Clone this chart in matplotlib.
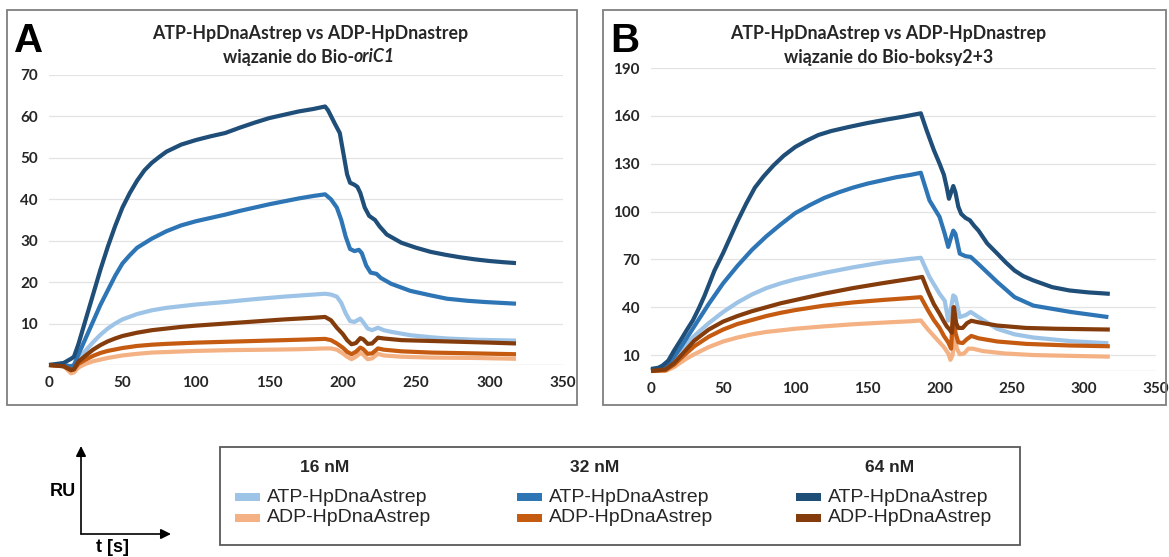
import numpy as np
import matplotlib
matplotlib.use("Agg")
import matplotlib.pyplot as plt
from matplotlib.patches import Rectangle, FancyArrowPatch

# ---- data: panel A (Bio-oriC1) ----
a_t_atp16 = [0, 10, 15, 17, 20, 25, 30, 35, 40, 45, 50, 60, 70, 80, 90, 100, 120, 140, 160, 180, 188,
             192, 196, 199, 202, 205, 208, 210, 212, 214, 217, 220, 224, 228, 233, 246, 260, 271, 290, 318]
a_y_atp16 = [0, -0.3, -1, -0.5, 1.5, 3.5, 5.5, 7.3, 8.8, 10, 11, 12.3, 13.2, 13.8, 14.2, 14.6, 15.2, 15.9, 16.5, 17, 17.2,
             17, 16.5, 15, 12.5, 10.6, 10.4, 10.8, 11.2, 10.3, 8.8, 8.4, 9, 8.4, 8, 7.2, 6.7, 6.4, 6.1, 5.9]
a_t_adp16 = [0, 10, 15, 17, 20, 25, 30, 40, 50, 60, 70, 85, 100, 125, 150, 170, 188,
             192, 196, 200, 203, 206, 209, 212, 214, 217, 220, 224, 228, 240, 260, 290, 318]
a_y_adp16 = [0, -0.3, -2, -1.8, -0.6, 0.3, 0.9, 1.7, 2.3, 2.7, 3, 3.2, 3.4, 3.6, 3.7, 3.8, 4,
             4, 3.7, 2.8, 2, 1.4, 2, 2.9, 2.5, 1.4, 1.6, 2.7, 2.3, 2, 1.8, 1.7, 1.5]
a_t_atp32 = [0, 10, 15, 17, 20, 25, 30, 35, 40, 45, 50, 55, 60, 70, 80, 90, 100, 110, 120, 130, 140, 150, 160, 170, 180, 188,
             192, 196, 199, 202, 205, 208, 211, 213, 216, 219, 223, 226, 233, 246, 260, 271, 285, 297, 318]
a_y_atp32 = [0, 0, -0.3, 0, 2.5, 6.5, 10.5, 14.5, 18, 21.5, 24.5, 26.5, 28.3, 30.5, 32.3, 33.7, 34.7, 35.5, 36.3, 37.2, 38, 38.8, 39.5, 40.2, 40.8, 41.2,
             40, 38, 35, 31, 28, 27.5, 27.8, 27, 24, 22.3, 22, 21, 19.6, 17.9, 16.8, 16, 15.5, 15.2, 14.8]
a_t_adp32 = [0, 10, 15, 17, 20, 25, 30, 35, 40, 50, 60, 70, 80, 100, 120, 150, 170, 188,
             192, 196, 200, 203, 206, 209, 212, 214, 217, 220, 224, 228, 240, 260, 290, 318]
a_y_adp32 = [0, -0.3, -1.3, -1.1, 0.3, 1.3, 2.2, 2.9, 3.4, 4.1, 4.6, 4.9, 5.1, 5.4, 5.6, 5.9, 6.1, 6.3,
             6, 5.2, 4.2, 3.2, 2.6, 3.2, 4.2, 3.8, 2.7, 2.8, 4, 3.7, 3.3, 3, 2.8, 2.6]
a_t_atp64 = [0, 10, 15, 17, 20, 25, 30, 35, 40, 45, 50, 55, 60, 65, 70, 75, 80, 90, 100, 110, 120, 130, 140, 150, 160, 170, 180, 188,
             190, 195, 198, 200, 203, 205, 208, 210, 212, 215, 218, 222, 225, 230, 240, 250, 260, 270, 280, 290, 300, 310, 318]
a_y_atp64 = [0, 0.5, 1.5, 2, 5, 11, 17, 23, 28.5, 33.5, 38, 41.5, 44.5, 47, 48.8, 50.2, 51.5, 53.2, 54.3, 55.2, 56, 57.3, 58.5, 59.6, 60.4, 61.2, 61.8, 62.4,
             61.5, 58, 56, 52, 46, 44, 43.5, 43, 41.5, 38, 36, 35, 33.5, 31.5, 29.5, 28.3, 27.3, 26.6, 26, 25.5, 25.1, 24.8, 24.6]
a_t_adp64 = [0, 10, 15, 17, 20, 25, 30, 35, 40, 45, 50, 60, 70, 80, 90, 100, 120, 140, 160, 180, 188,
             192, 196, 200, 203, 206, 209, 212, 214, 217, 220, 224, 228, 240, 260, 280, 300, 318]
a_y_adp64 = [0, -0.3, -1.2, -1, 0.8, 2.3, 3.7, 4.8, 5.7, 6.4, 7, 7.8, 8.4, 8.8, 9.2, 9.5, 10, 10.5, 11, 11.4, 11.6,
             10.8, 9, 7.5, 6, 5, 5.3, 6.5, 6.2, 5.1, 5.2, 6.6, 6.4, 6, 5.8, 5.6, 5.4, 5.2]

# ---- data: panel B (Bio-boksy2+3) ----
b_t_atp16 = [0, 10, 16, 20, 25, 30, 40, 50, 60, 70, 80, 90, 100, 120, 140, 160, 180, 187,
             193, 200, 203.6, 206, 208, 209.5, 211, 214, 218, 221.6, 227, 240, 252, 265, 291, 317]
b_y_atp16 = [0.5, 3, 9, 13, 17.5, 22, 30, 37, 43, 48, 52, 55, 57.5, 61.5, 65, 68, 70.3, 71,
             59, 48.4, 44, 31.6, 40, 47.4, 46.3, 33.8, 35, 37, 33.8, 26.4, 23, 21, 18.7, 17.4]
b_t_adp16 = [0, 10, 16, 20, 25, 30, 40, 50, 60, 70, 80, 90, 100, 120, 140, 160, 180, 187,
             192, 196, 200, 203, 206, 207.5, 209, 210.5, 212, 214, 217, 220, 223, 230, 245, 265, 290, 318]
b_y_adp16 = [0, 0, 2.5, 5, 8, 10.5, 15, 18.5, 21, 23, 24.5, 25.5, 26.5, 28, 29.3, 30.3, 31.2, 31.7,
             26, 22, 18, 15, 11, 7, 10, 22, 14, 10.5, 11, 14, 14, 12.5, 11, 10, 9.5, 9]
b_t_atp32 = [0, 10, 16, 20, 25, 30, 40, 50, 60, 70, 80, 90, 100, 110, 120, 130, 140, 150, 160, 170, 180, 187,
             193, 200, 203.6, 206, 208, 209.5, 211, 214, 218, 221.6, 227, 240, 252, 265, 291, 317]
b_y_atp32 = [0.5, 2, 9, 14, 21, 28, 42, 55, 66, 76, 84.5, 92, 99, 104, 108.5, 112, 115, 117.5, 119.5, 121.5, 123, 124.3,
             107, 96.6, 86, 77.8, 84, 88, 86, 73.6, 72, 71.5, 67, 55.8, 46.3, 41, 37, 33.8]
b_t_adp32 = [0, 10, 16, 20, 25, 30, 40, 50, 60, 70, 80, 90, 100, 120, 140, 160, 180, 187,
             192, 196, 200, 203, 206, 208, 209.5, 211, 213, 216, 219, 222, 227, 240, 260, 290, 318]
b_y_adp32 = [0, 0.5, 4, 7.5, 11.5, 15.5, 21.5, 26, 29.5, 32, 34.5, 36.5, 38.2, 41, 43, 44.5, 45.8, 46.3,
             38, 32, 27, 22, 18, 14, 40, 24, 18, 17.5, 20, 22, 20.5, 18.5, 17, 16, 15.5]
b_t_atp64 = [0, 5, 8, 12, 16, 21, 25, 29, 33, 37, 44, 50, 55, 60, 66, 72, 78, 85, 92, 100, 108, 116, 125, 137, 150, 162, 175, 187,
             191, 196, 200, 203, 205, 206.5, 208, 209.5, 211, 213, 215, 218, 221, 224, 227, 233, 240, 246, 252, 258, 265, 278, 290, 303, 318]
b_y_atp64 = [1.3, 2, 3.4, 6.5, 12.8, 20, 26, 31.7, 39, 47, 63, 74, 84, 94, 105, 115, 122, 129, 135, 140.5, 144.5, 148, 150.5, 153, 155.5, 157.5, 159.5, 161.6,
             151, 138.6, 130, 123, 115, 108, 112, 116, 112, 103, 98.5, 96, 94.5, 91, 88, 80, 73.6, 68, 63, 59.5, 56.8, 52.6, 50.5, 49.3, 48.4]
b_t_adp64 = [0, 10, 16, 20, 25, 30, 40, 50, 60, 70, 80, 90, 100, 120, 140, 160, 180, 188,
             192, 196, 200, 203, 205, 207, 208.5, 210, 211.5, 213, 216, 219, 222, 227, 240, 260, 280, 318]
b_y_adp64 = [0, 1, 5, 9, 14, 19, 26, 31, 34.5, 37.5, 40, 42.5, 44.5, 48.5, 52, 55, 57.8, 59,
             50, 42, 36, 31, 28, 26, 24, 40, 30, 27, 27, 30, 31.5, 30.5, 28.5, 27, 26.5, 26]

# colours (16 / 32 / 64 nM)
c_atp16, c_adp16 = "#9DC3E6", "#F4B183"
c_atp32, c_adp32 = "#2E75B6", "#C55A11"
c_atp64, c_adp64 = "#1F4E79", "#843C0C"

W, H = 1169, 557
fig = plt.figure(figsize=(W / 100, H / 100), dpi=100)


def fx(x):
    return x / W


def fy(y):
    return 1 - y / H


def setup(ax, ymax, yticks):
    ax.set_xlim(0, 350)
    ax.set_ylim(0, ymax)
    ax.set_xticks(range(0, 351, 50))
    ax.set_yticks(yticks)
    for s in ax.spines.values():
        s.set_visible(False)
    ax.axhline(0, color="#D9D9D9", lw=1, zorder=0)
    ax.grid(axis="y", color="#E3E3E3", lw=0.9)
    ax.set_axisbelow(True)
    ax.tick_params(length=0, labelsize=11, colors="#262626", pad=8)
    for lab in ax.get_xticklabels() + ax.get_yticklabels():
        lab.set_fontweight("bold")
        lab.set_fontfamily("Lato")
    ax.set_facecolor("none")


axA = fig.add_axes([fx(49), fy(365), fx(514), 290 / H])
axB = fig.add_axes([fx(651), fy(371), fx(505), 303 / H])
setup(axA, 70, range(10, 71, 10))
setup(axB, 190, range(10, 191, 30))

lw = 3
seriesA = [(a_t_atp16, a_y_atp16, c_atp16), (a_t_adp16, a_y_adp16, c_adp16),
           (a_t_atp32, a_y_atp32, c_atp32), (a_t_adp32, a_y_adp32, c_adp32),
           (a_t_atp64, a_y_atp64, c_atp64), (a_t_adp64, a_y_adp64, c_adp64)]
seriesB = [(b_t_atp16, b_y_atp16, c_atp16), (b_t_adp16, b_y_adp16, c_adp16),
           (b_t_atp32, b_y_atp32, c_atp32), (b_t_adp32, b_y_adp32, c_adp32),
           (b_t_atp64, b_y_atp64, c_atp64), (b_t_adp64, b_y_adp64, c_adp64)]
for t, y, c in seriesA:
    axA.plot(t, y, color=c, lw=lw, solid_joinstyle="round", solid_capstyle="butt", clip_on=False)
for t, y, c in seriesB:
    axB.plot(t, y, color=c, lw=lw, solid_joinstyle="round", solid_capstyle="butt", clip_on=False)

# panel frames
for x0, x1 in [(7, 577), (603, 1166)]:
    fig.add_artist(Rectangle((fx(x0), fy(405)), fx(x1 - x0), (405 - 10) / H,
                             transform=fig.transFigure, fill=False, ec="#7F7F7F", lw=1.3))

# panel letters
fig.text(fx(14), fy(52), "A", fontsize=29, fontweight="bold", family="Liberation Sans", va="baseline")
fig.text(fx(610), fy(52), "B", fontsize=29, fontweight="bold", family="Liberation Sans", va="baseline")

# titles
tkw = dict(fontsize=12.8, fontweight="bold", family="Lato", color="#262626", va="center")
fig.text(fx(310), fy(33), "ATP-HpDnaAstrep vs ADP-HpDnastrep", ha="center", **tkw)
fig.text(fx(888), fy(33), "ATP-HpDnaAstrep vs ADP-HpDnastrep", ha="center", **tkw)
fig.text(fx(889), fy(57), "wiązanie do Bio-boksy2+3", ha="center", **tkw)

r = fig.canvas.get_renderer()
p1 = fig.text(0, fy(57), "wiązanie do Bio-", ha="left", **tkw)
p2 = fig.text(0, fy(57), "oriC1", ha="left", style="italic", **tkw)
w1 = p1.get_window_extent(r).width
w2 = p2.get_window_extent(r).width
start = 309 - (w1 + w2) / 2
p1.set_x(fx(start))
p2.set_x(fx(start + w1))

# RU / t[s] axis sketch
akw = dict(transform=fig.transFigure, arrowstyle="-|>,head_length=6,head_width=3",
           lw=1.2, color="black", shrinkA=0, shrinkB=0)
fig.add_artist(FancyArrowPatch((fx(81), fy(534)), (fx(81), fy(446)), **akw))
fig.add_artist(FancyArrowPatch((fx(81), fy(534)), (fx(171), fy(534)), **akw))
fig.text(fx(63), fy(491), "RU", ha="center", va="center", fontsize=13, fontweight="bold", family="Liberation Sans")
fig.text(fx(113), fy(548), "t [s]", ha="center", va="center", fontsize=13, fontweight="bold", family="Liberation Sans")

# legend box
fig.add_artist(Rectangle((fx(220), fy(545)), fx(800), (545 - 447) / H,
                         transform=fig.transFigure, fill=False, ec="#595959", lw=1.3))
heads = ["16 nM", "32 nM", "64 nM"]
labels = ["ATP-HpDnaAstrep", "ADP-HpDnaAstrep"]
col_cols = [(c_atp16, c_adp16), (c_atp32, c_adp32), (c_atp64, c_adp64)]
sw_x = [235, 517, 796]
head_x = [325, 595, 890]
for i in range(3):
    fig.text(fx(head_x[i]), fy(468), heads[i], ha="center", va="center", fontsize=12.5,
             fontweight="bold", family="Liberation Sans", color="#262626")
    for j, yy in enumerate([497, 518]):
        fig.add_artist(Rectangle((fx(sw_x[i]), fy(yy + 4)), fx(25), 8 / H,
                                 transform=fig.transFigure, color=col_cols[i][j], lw=0))
        fig.text(fx(sw_x[i] + 32), fy(yy), labels[j], ha="left", va="center", fontsize=14,
                 family="Liberation Sans", color="#262626")

fig.savefig("out.png", dpi=100)
